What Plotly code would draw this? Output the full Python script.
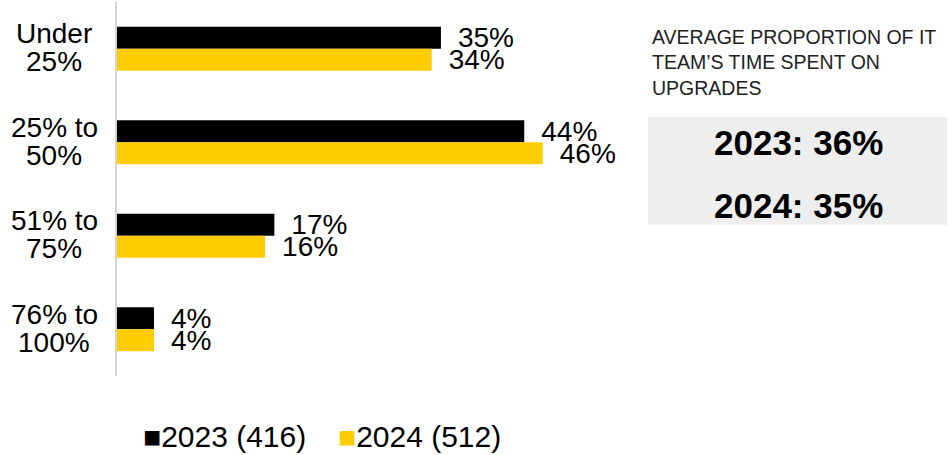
import plotly.graph_objects as go

# Share of IT team time spent on upgrades, by survey year
categories = ["Under 25%", "25% to 50%", "51% to 75%", "76% to 100%"]
category_lines = [("Under", "25%"), ("25% to", "50%"), ("51% to", "75%"), ("76% to", "100%")]
series_names = ["2023 (416)", "2024 (512)"]
values_2023 = [35, 44, 17, 4]
values_2024 = [34, 46, 16, 4]
series_colors = ["#000000", "#FFCC00"]

panel_title = "AVERAGE PROPORTION OF IT<br>TEAM\u2019S TIME SPENT ON<br>UPGRADES"
averages = [("2023", 36), ("2024", 35)]

FONT = "Liberation Sans, Arial, Helvetica, sans-serif"

fig = go.Figure()
for name, vals, color in zip(series_names, [values_2023, values_2024], series_colors):
    fig.add_trace(go.Bar(
        y=categories, x=vals, orientation="h", name=name,
        marker=dict(color=color, line=dict(width=0)),
        texttemplate="\u2002%{x}%", textposition="outside",
        textfont=dict(size=28, color="#000000", family=FONT),
        constraintext="none", cliponaxis=False, hoverinfo="skip",
    ))

annotations = []
# Two-line category labels with tight line spacing
for cat, (l1, l2) in zip(categories, category_lines):
    for text, shift in ((l1, 15), (l2, -13)):
        annotations.append(dict(
            xref="paper", yref="y", x=0, y=cat, xshift=-63, yshift=shift,
            xanchor="center", yanchor="middle", text=text, showarrow=False,
            font=dict(size=28, color="#000000", family=FONT),
        ))

# Side panel with the averages
annotations.append(dict(
    xref="paper", yref="paper", x=0.640, y=0.838, xanchor="left", yanchor="middle",
    text=panel_title, align="left", showarrow=False,
    font=dict(size=19.5, color="#222222", family=FONT),
))
for (year, avg), ypos in zip(averages, [0.625, 0.456]):
    annotations.append(dict(
        xref="paper", yref="paper", x=0.8187, y=ypos, xanchor="center", yanchor="middle",
        text=f"<b>{year}: {avg}%</b>", showarrow=False,
        font=dict(size=35, color="#000000", family=FONT),
    ))

# Legend drawn as text with coloured square glyphs
for name, color, xpos in zip(series_names, series_colors, [0.029, 0.263]):
    annotations.append(dict(
        xref="paper", yref="paper", x=xpos, y=-0.163, xanchor="left", yanchor="middle",
        text=f"<span style='color:{color}'>\u25A0</span>{name}", showarrow=False,
        font=dict(size=30, color="#000000", family=FONT),
    ))

fig.update_layout(
    width=950, height=455,
    margin=dict(l=117, r=0, t=2, b=79),
    paper_bgcolor="#ffffff", plot_bgcolor="#ffffff",
    barmode="group", bargap=0.53, bargroupgap=0,
    showlegend=False,
    font=dict(family=FONT),
    xaxis=dict(domain=[0, 0.6], range=[0, 54], visible=False, fixedrange=True),
    yaxis=dict(autorange="reversed", showticklabels=False, ticks="",
               showgrid=False, zeroline=False, showline=True,
               linecolor="#d4d4d4", linewidth=2, fixedrange=True),
    shapes=[dict(type="rect", xref="paper", yref="paper",
                 x0=0.6375, x1=0.9964, y0=0.4037, y1=0.6925,
                 fillcolor="#eeeeee", line=dict(width=0), layer="below")],
    annotations=annotations,
)

fig.write_html("out.html")
